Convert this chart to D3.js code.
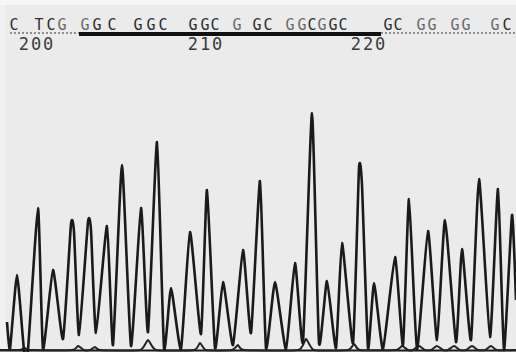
<!DOCTYPE html>
<html>
<head>
<meta charset="utf-8">
<script src="https://cdn.jsdelivr.net/npm/d3@7"></script>
<style>
  html, body { margin: 0; padding: 0; background: #ececec; }
  svg { display: block; }
</style>
</head>
<body>
<div class="trace"></div>
<script>
// main trace as (scan, signal) at peaks and valleys
const mainScan = [14, 20, 34, 48, 56, 76, 86, 106, 126, 142, 148, 158, 176, 182, 192, 214, 226, 244, 262, 282,
    296, 314, 328, 342, 362, 380, 402, 414, 430, 446, 466, 486, 502, 520, 532, 550, 572, 590, 606, 624,
    638, 654, 672, 684, 706, 718, 724, 736, 748, 766, 790, 806, 818, 834, 856, 874, 890, 912, 924, 942,
    958, 980, 996, 1008, 1024, 1032];
const mainSignal = [112, 4, 300, 0, 0, 568, 4, 320, 44, 504, 472, 60, 512, 480, 68, 496, 20, 740, 16, 568,
    72, 832, 8, 248, 4, 472, 64, 640, 8, 272, 20, 400, 68, 676, 8, 272, 4, 348, 32, 948,
    28, 276, 8, 428, 28, 728, 660, 8, 268, 4, 372, 20, 604, 4, 476, 40, 520, 32, 404, 40,
    684, 52, 644, 0, 540, 200];

// the other dye channels, small bumps along the floor
const minorScan = [0, 40, 50, 60, 144, 156, 168, 180, 190, 200, 280, 296, 312, 388, 400, 412, 464, 476, 488, 596,
    612, 628, 696, 708, 720, 792, 804, 816, 826, 838, 850, 862, 874, 886, 896, 908, 920, 932, 944, 956,
    970, 982, 994, 1032];
const minorSignal = [0, 0, 8, 0, 0, 16, 0, 0, 12, 0, 0, 40, 0, 0, 28, 0, 0, 20, 0, 0,
    44, 0, 0, 24, 0, 0, 16, 0, 0, 16, 0, 0, 16, 0, 0, 16, 0, 0, 16, 0,
    0, 16, 0, 0];

// base calls along the top
const bases = ["C", "T", "C", "G", "G", "G", "C", "G", "G", "C", "G", "G", "C", "G", "G", "C",
    "G", "G", "C", "G", "G", "C", "G", "C", "G", "G", "G", "G", "G", "C"];
const baseScan = [28, 78, 102, 124, 170, 194, 224, 276, 302, 326, 386, 410, 430, 474, 514, 536,
    580, 604, 624, 644, 666, 686, 776, 796, 842, 864, 910, 932, 990, 1014];
const baseFaded = [0, 0, 0, 1, 1, 0, 0, 0, 0, 0, 0, 0, 0, 1, 0, 0,
    1, 1, 0, 1, 0, 0, 0, 0, 1, 1, 1, 1, 1, 0];

// base numbering
const tickLabels = ["200", "210", "220"];
const tickScan = [72, 410, 736];

// underlined stretch of the read (scan range of the solid bar)
const solidFrom = 158, solidTo = 762, lineFrom = 20;

const width = 516, height = 352;

const x = d3.scaleLinear().domain([0, 1032]).range([0, width]);
const y = d3.scaleLinear().domain([0, 1400]).range([350, 0]);

const svg = d3.select(".trace").append("svg")
    .attr("width", width)
    .attr("height", height);

svg.append("rect")
    .attr("width", width).attr("height", height)
    .attr("fill", "#ebebeb");
svg.append("rect")
    .attr("width", width).attr("height", 5)
    .attr("fill", "#f7f7f7");
svg.append("rect")
    .attr("y", 5).attr("width", 6).attr("height", height - 5)
    .attr("fill", "#f1f1f1");

const line = d3.line()
    .x(d => x(d[0]))
    .y(d => y(d[1]))
    .curve(d3.curveCardinal.tension(0.5));

// floor line
svg.append("line")
    .attr("x1", x(0)).attr("x2", x(1032))
    .attr("y1", y(0) + 0.5).attr("y2", y(0) + 0.5)
    .attr("stroke", "#1b1b1b")
    .attr("stroke-width", 2);

svg.append("path")
    .datum(d3.zip(minorScan, minorSignal))
    .attr("fill", "none")
    .attr("stroke", "#222")
    .attr("stroke-width", 2)
    .attr("d", line);

svg.append("path")
    .datum(d3.zip(mainScan, mainSignal))
    .attr("fill", "none")
    .attr("stroke", "#1a1a1a")
    .attr("stroke-width", 2.6)
    .attr("stroke-linejoin", "round")
    .attr("d", line);

// underline: dotted, solid bar, dotted
const ruleY = 33;
svg.append("line")
    .attr("x1", x(lineFrom)).attr("x2", x(solidFrom))
    .attr("y1", ruleY).attr("y2", ruleY)
    .attr("stroke", "#333").attr("stroke-width", 1.2)
    .attr("stroke-dasharray", "2,2");
svg.append("line")
    .attr("x1", x(solidTo)).attr("x2", x(1032))
    .attr("y1", ruleY).attr("y2", ruleY)
    .attr("stroke", "#333").attr("stroke-width", 1.2)
    .attr("stroke-dasharray", "2,2");
svg.append("line")
    .attr("x1", x(solidFrom)).attr("x2", x(solidTo))
    .attr("y1", ruleY + 1).attr("y2", ruleY + 1)
    .attr("stroke", "#111").attr("stroke-width", 4);

svg.append("g")
    .attr("font-family", "DejaVu Sans Mono, monospace")
    .attr("font-size", 15)
    .attr("text-anchor", "middle")
    .selectAll("text")
    .data(bases)
    .enter().append("text")
    .attr("x", (d, i) => x(baseScan[i]))
    .attr("y", 30)
    .attr("fill", (d, i) => baseFaded[i] ? "#6a6a6a" : "#2e2e2e")
    .text(d => d);

svg.append("g")
    .attr("font-family", "DejaVu Sans Mono, monospace")
    .attr("font-size", 17)
    .attr("letter-spacing", 2)
    .attr("text-anchor", "middle")
    .selectAll("text")
    .data(tickLabels)
    .enter().append("text")
    .attr("x", (d, i) => x(tickScan[i]) + 1)
    .attr("y", 50)
    .attr("fill", "#3a3a3a")
    .text(d => d);
</script>
</body>
</html>
